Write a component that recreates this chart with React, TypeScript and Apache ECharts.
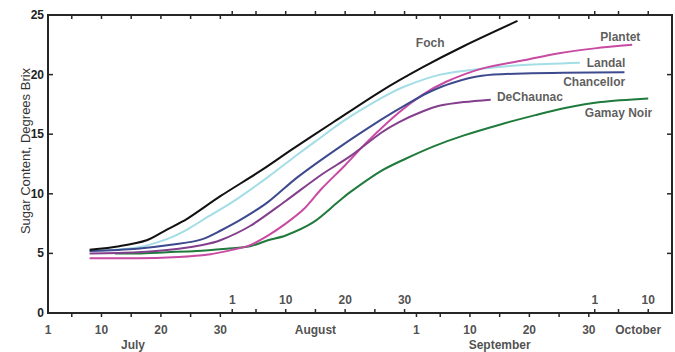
import React, { useEffect, useRef } from 'react';
import * as echarts from 'echarts';

// x values are days counted from July 1 (July 1 = 0)
const fochDays = [7, 12, 16.6, 20, 23.4, 29, 36, 41, 48, 56, 63, 70, 79];
const fochBrix = [5.3, 5.6, 6.1, 7.0, 7.9, 9.8, 12.0, 13.7, 16.0, 18.6, 20.6, 22.4, 24.5];

const landalDays = [7, 15, 20, 23.4, 27, 31, 37, 42, 45, 50, 56, 60, 66, 73, 80, 89.5];
const landalBrix = [5.2, 5.5, 6.2, 7.0, 8.1, 9.3, 11.4, 13.3, 14.4, 16.2, 18.0, 19.0, 20.0, 20.5, 20.8, 21.0];

const chancellorDays = [7, 15, 22, 26, 29, 33, 37, 42, 49, 56, 60, 64, 68, 73, 80, 97];
const chancellorBrix = [5.2, 5.4, 5.8, 6.2, 6.9, 8.0, 9.3, 11.4, 13.9, 16.2, 17.4, 18.5, 19.3, 19.9, 20.1, 20.2];

const dechaunacDays = [7, 15, 22, 26, 29, 34, 40, 46, 51, 56, 59, 63, 66, 70, 74.5];
const dechaunacBrix = [5.0, 5.1, 5.4, 5.7, 6.1, 7.3, 9.4, 11.6, 13.2, 15.1, 16.0, 16.9, 17.4, 17.7, 17.9];

const plantetDays = [7, 15, 22, 27, 31, 34, 37, 40, 43, 46, 50, 54, 59, 63, 67, 73, 80, 86, 92, 98.3];
const plantetBrix = [4.6, 4.6, 4.7, 4.9, 5.3, 5.7, 6.5, 7.5, 8.7, 10.4, 12.4, 14.5, 16.8, 18.3, 19.4, 20.5, 21.2, 21.8, 22.2, 22.5];

const gamayDays = [11.3, 15, 20, 25, 30, 34, 37, 40, 44.6, 49, 51, 56, 60, 65, 70, 76, 82, 87, 93, 101];
const gamayBrix = [5.0, 5.0, 5.1, 5.2, 5.4, 5.6, 6.1, 6.5, 7.6, 9.4, 10.2, 11.9, 12.9, 14.0, 14.9, 15.8, 16.6, 17.2, 17.7, 18.0];

// variety name labels, anchored in data coordinates
const labelNames = ['Foch', 'Plantet', 'Landal', 'Chancellor', 'DeChaunac', 'Gamay Noir'];
const labelDays = [64.3, 96.3, 93.9, 91.9, 81.1, 96.0];
const labelBrix = [22.65, 23.15, 20.97, 19.38, 18.12, 16.78];

// x-axis ticks and labels (July/September ticks point down, August/October ticks point up)
const julySeptTicks = [4, 9, 14, 19, 24, 29, 62, 66, 71, 76, 81, 86, 91];
const augOctTicks = [31, 35, 40, 45, 50, 55, 60, 92, 96, 101];
const belowLabelDays = [0, 9, 19, 29, 62, 71, 81, 91];
const belowLabelText = ['1', '10', '20', '30', '1', '10', '20', '30'];
const aboveLabelDays = [31, 40, 50, 60, 92, 101];
const aboveLabelText = ['1', '10', '20', '30', '1', '10'];
const lowMonthDays = [14.3, 76];
const lowMonthText = ['July', 'September'];
const midMonthDays = [45, 99.3];
const midMonthText = ['August', 'October'];

const yTickValues = [5, 10, 15, 20];

const X_MIN = 0;
const X_MAX = 105;
const Y_MIN = 0;
const Y_MAX = 25;

const WIDTH = 675;
const HEIGHT = 352;
const GRID = { left: 48, right: 3, top: 15, bottom: 39 };
const TICK_PX = 4;

const zip = (xs: number[], ys: number[]) => xs.map((x, i) => [x, ys[i]]);

const AXIS_COLOR = '#262626';
const FONT = 'Liberation Sans, Arial, sans-serif';

export default function App() {
  const ref = useRef<HTMLDivElement>(null);

  useEffect(() => {
    if (!ref.current) return;
    const chart = echarts.init(ref.current, undefined, { renderer: 'svg' });

    const mkLine = (name: string, days: number[], brix: number[], color: string) => ({
      type: 'line' as const,
      name,
      data: zip(days, brix),
      smooth: 0.3,
      showSymbol: false,
      lineStyle: { color, width: 2 },
      itemStyle: { color },
    });

    const frameLine = { show: true, onZero: false, lineStyle: { color: AXIS_COLOR, width: 2 } };
    const hiddenSplit = { show: true, lineStyle: { color: 'rgba(255,255,255,0)' } };

    const xTickData = [
      ...julySeptTicks.map((d) => [d, -1]),
      ...augOctTicks.map((d) => [d, 1]),
    ];

    const textSeries = (name: string, days: number[], texts: string[], offsetY: number) => ({
      type: 'scatter' as const,
      name,
      symbolSize: 0.1,
      clip: false,
      itemStyle: { color: 'transparent' },
      z: 8,
      data: days.map((d, i) => ({ name: texts[i], value: [d, Y_MIN] })),
      label: {
        show: true,
        position: 'inside',
        offset: [0, offsetY],
        formatter: '{b}',
        fontFamily: FONT,
        fontWeight: 'bold',
        fontSize: 12,
        color: '#222222',
      },
    });

    chart.setOption({
      animation: false,
      grid: {
        ...GRID,
        show: true,
        borderColor: AXIS_COLOR,
        borderWidth: 2,
      },
      xAxis: [
        {
          type: 'value',
          position: 'bottom',
          min: X_MIN,
          max: X_MAX,
          splitLine: hiddenSplit,
          axisLine: frameLine,
          axisTick: { show: false },
          axisLabel: { show: false },
        },
        {
          type: 'value',
          position: 'top',
          min: X_MIN,
          max: X_MAX,
          splitLine: { show: false },
          axisLine: frameLine,
          axisTick: { show: false },
          axisLabel: { show: false },
        },
      ],
      yAxis: [
        {
          type: 'value',
          position: 'left',
          min: Y_MIN,
          max: Y_MAX,
          interval: 5,
          splitLine: hiddenSplit,
          axisLine: frameLine,
          axisTick: { show: false },
          axisLabel: {
            margin: 4,
            fontFamily: FONT,
            fontWeight: 'bold',
            fontSize: 12,
            color: '#222222',
          },
          name: 'Sugar Content, Degrees Brix',
          nameLocation: 'middle',
          nameGap: 16,
          nameMoveOverlap: false,
          nameTextStyle: {
            fontFamily: FONT,
            fontSize: 13,
            color: '#333333',
            padding: [0, 0, 0, 26],
          },
        },
        {
          type: 'value',
          position: 'right',
          min: Y_MIN,
          max: Y_MAX,
          interval: 5,
          splitLine: { show: false },
          axisLine: frameLine,
          axisTick: { show: false },
          axisLabel: { show: false },
        },
      ],
      series: [
        mkLine('Gamay Noir', gamayDays, gamayBrix, '#1f7a3c'),
        mkLine('Landal', landalDays, landalBrix, '#a3dde5'),
        mkLine('Plantet', plantetDays, plantetBrix, '#c84aa3'),
        mkLine('DeChaunac', dechaunacDays, dechaunacBrix, '#833f8c'),
        mkLine('Chancellor', chancellorDays, chancellorBrix, '#3d4a8e'),
        mkLine('Foch', fochDays, fochBrix, '#111111'),
        {
          type: 'custom',
          clip: false,
          z: 10,
          encode: { x: 0 },
          data: xTickData,
          renderItem: (_params: any, api: any) => {
            const d = api.value(0);
            const dir = api.value(1);
            const pb = api.coord([d, Y_MIN]);
            const pt = api.coord([d, Y_MAX]);
            return {
              type: 'group',
              children: [
                {
                  type: 'rect',
                  shape: {
                    x: pb[0] - 0.75,
                    y: dir > 0 ? pb[1] - TICK_PX : pb[1],
                    width: 1.5,
                    height: TICK_PX,
                  },
                  style: { fill: AXIS_COLOR },
                },
                {
                  type: 'rect',
                  shape: {
                    x: pt[0] - 0.75,
                    y: dir > 0 ? pt[1] - TICK_PX : pt[1],
                    width: 1.5,
                    height: TICK_PX,
                  },
                  style: { fill: AXIS_COLOR },
                },
              ],
            };
          },
        },
        {
          type: 'custom',
          clip: false,
          z: 10,
          encode: { x: 0, y: 1 },
          data: yTickValues.map((v) => [X_MIN, v]),
          renderItem: (_params: any, api: any) => {
            const v = api.value(1);
            const pl = api.coord([X_MIN, v]);
            const pr = api.coord([X_MAX, v]);
            return {
              type: 'group',
              children: [
                {
                  type: 'rect',
                  shape: { x: pl[0], y: pl[1] - 0.75, width: TICK_PX + 1, height: 1.5 },
                  style: { fill: AXIS_COLOR },
                },
                {
                  type: 'rect',
                  shape: { x: pr[0] - TICK_PX - 1, y: pr[1] - 0.75, width: TICK_PX + 1, height: 1.5 },
                  style: { fill: AXIS_COLOR },
                },
              ],
            };
          },
        },
        textSeries('belowLabels', belowLabelDays, belowLabelText, 17),
        textSeries('aboveLabels', aboveLabelDays, aboveLabelText, -13),
        textSeries('lowMonths', lowMonthDays, lowMonthText, 32),
        textSeries('midMonths', midMonthDays, midMonthText, 17),
        {
          type: 'scatter',
          name: 'varietyLabels',
          symbolSize: 0.1,
          clip: false,
          itemStyle: { color: 'transparent' },
          z: 8,
          data: labelNames.map((n, i) => ({ name: n, value: [labelDays[i], labelBrix[i]] })),
          label: {
            show: true,
            position: 'inside',
            formatter: '{b}',
            fontFamily: FONT,
            fontWeight: 'bold',
            fontSize: 12,
            color: '#333333',
          },
        },
      ],
    });

    return () => chart.dispose();
  }, []);

  return (
    <div
      ref={ref}
      style={{ position: 'absolute', left: 0, top: 0, width: WIDTH, height: HEIGHT }}
    />
  );
}
